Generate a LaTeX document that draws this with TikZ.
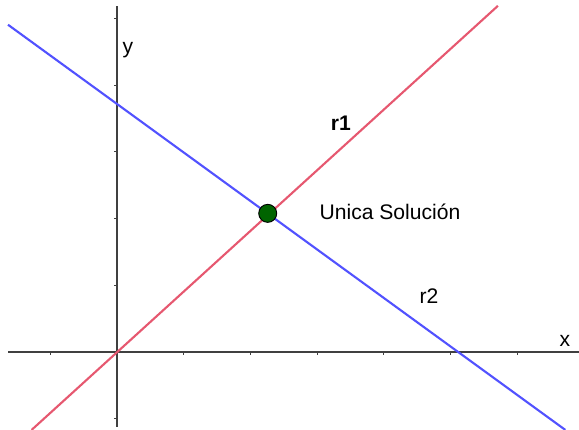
\documentclass[tikz,border=0pt]{standalone}
\usepackage{fontspec}
\setmainfont{Liberation Sans}
\usepackage{xcolor}
\usetikzlibrary{calc}
\definecolor{rojo}{RGB}{230,88,112}
\definecolor{azul}{RGB}{82,82,255}
\definecolor{verde}{RGB}{0,100,0}
\tikzset{
  axis/.style={line width=.5pt,draw=black!75},
  tick/.style={line width=.4pt,draw=black!75},
  rline/.style={line width=.9pt,draw=rojo},
  bline/.style={line width=.9pt,draw=azul},
  lbl/.style={font=\fontsize{9}{10}\selectfont,inner sep=0pt},
  pt/.style={circle,draw=black,line width=.4pt,fill=verde,minimum size=2.7mm,inner sep=0pt},
}

\begin{document}
\begin{tikzpicture}[x=1cm,y=1cm]
\useasboundingbox (-1.754,-1.169) rectangle (6.927,5.277);
% axes
\coordinate (xl) at (-1.634,0);
\coordinate (xr) at (6.927,0);
\coordinate (yb) at (0,-1.125);
\coordinate (yt) at (0,5.19);
\draw[axis] (xl) -- (xr);
\draw[axis] (yb) -- (yt);
\foreach \i in {-1,1,2,3,4,5,6}
  \draw[tick] (\i,0) -- ++(0,-0.05);
\foreach \j in {-1,1,2,3,4,5}
  \draw[tick] (0,\j) -- ++(-0.05,0);
% lines
\coordinate (r1a) at (-1.28,-1.169);
\coordinate (r1b) at (5.712,5.19);
\coordinate (r2a) at (-1.634,4.906);
\coordinate (r2b) at (6.722,-1.169);
\clip (-1.754,-1.169) rectangle (6.927,5.277);
\draw[rline] (r1a) -- (r1b);
\draw[bline] (r2a) -- (r2b);
\node[pt] (sol) at (2.26,2.078) {};
% labels
\node[lbl]  (ylab) at (0.165,4.528) {y};
\node[lbl]  (xlab) at (6.717,0.165) {x};
\node[lbl,font=\fontsize{9}{10}\selectfont\bfseries] (r1lab) at (3.358,3.433) {r1};
\node[lbl]  (uni)  at (4.093,2.099) {Unica Solución};
\node[lbl]  (r2lab) at (4.678,0.84) {r2};
\end{tikzpicture}
\end{document}
